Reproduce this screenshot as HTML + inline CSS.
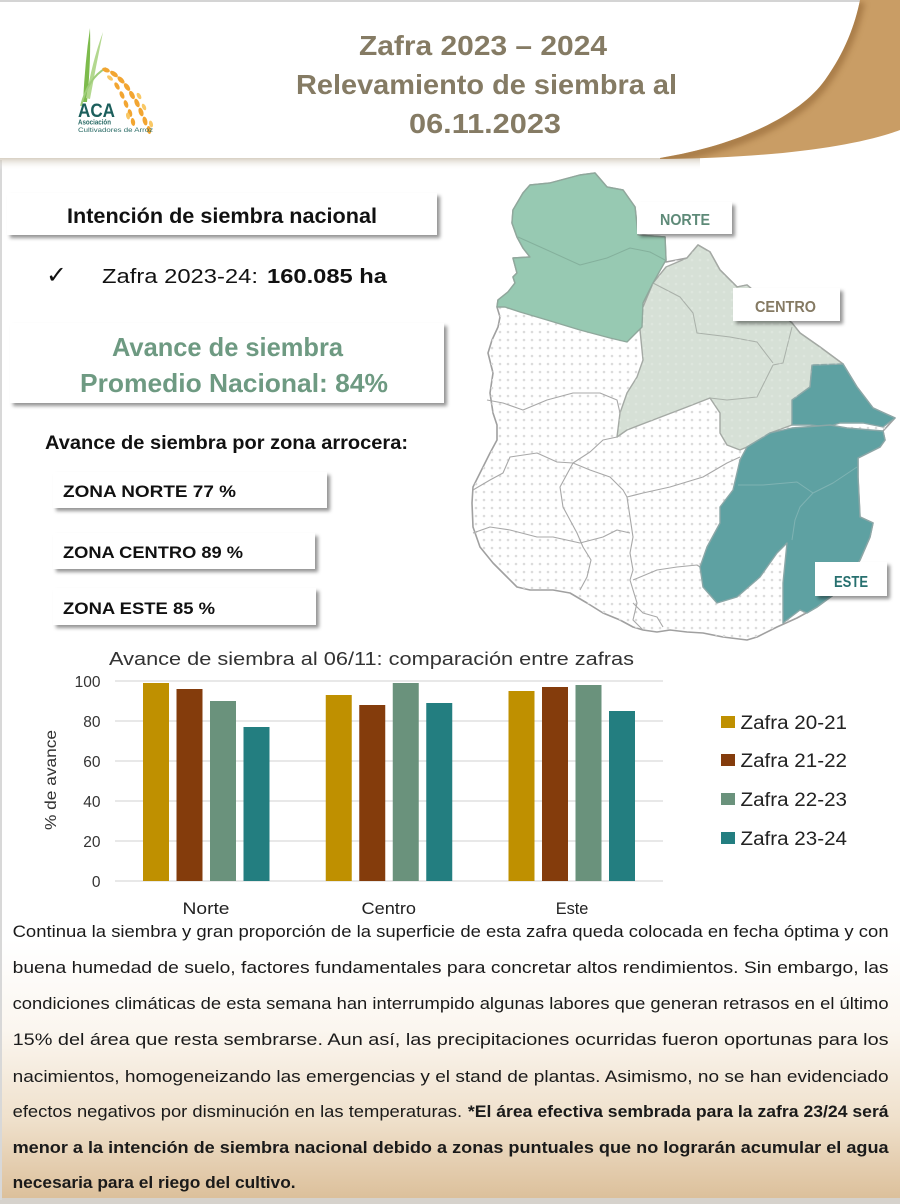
<!DOCTYPE html>
<html><head><meta charset="utf-8">
<style>
html,body{margin:0;padding:0;background:#fff;}
body{width:900px;height:1204px;overflow:hidden;}
svg{display:block;}
text{font-family:"Liberation Sans",Arial,sans-serif;}
</style></head>
<body>
<svg width="900" height="1204" viewBox="0 0 900 1204" xmlns="http://www.w3.org/2000/svg">
<defs>
  <filter id="sh" x="-10%" y="-30%" width="125%" height="180%">
    <feDropShadow dx="3" dy="3" stdDeviation="1.8" flood-color="#000" flood-opacity="0.42"/>
  </filter>
  <filter id="blur3"><feGaussianBlur stdDeviation="3"/></filter>
  <linearGradient id="bg" x1="0" y1="0" x2="0" y2="1">
    <stop offset="0" stop-color="#ffffff"/>
    <stop offset="0.35" stop-color="#fbf6ef"/>
    <stop offset="0.7" stop-color="#efe0cb"/>
    <stop offset="1" stop-color="#dcc09b"/>
  </linearGradient>
  <linearGradient id="hs" x1="0" y1="0" x2="0" y2="1">
    <stop offset="0" stop-color="#c9bfae" stop-opacity="0.75"/>
    <stop offset="1" stop-color="#ffffff" stop-opacity="0"/>
  </linearGradient>
  <pattern id="dots" width="8" height="8" patternUnits="userSpaceOnUse">
    <circle cx="4" cy="4" r="1.3" fill="#dcdcdc"/>
  </pattern>
  <pattern id="wdots" width="8" height="8" patternUnits="userSpaceOnUse">
    <circle cx="4" cy="4" r="1.3" fill="#ffffff" fill-opacity="0.18"/>
  </pattern>
  <clipPath id="tanclip">
    <path d="M660,158 C740,145 800,115 825,80 C845,52 855,25 860,0 L900,0 L900,130 C860,145 780,158 660,159 Z"/>
  </clipPath>
</defs>

<rect x="0" y="0" width="900" height="1204" fill="#ffffff"/>
<rect x="0" y="940" width="900" height="258" fill="url(#bg)"/>
<rect x="0" y="1198" width="900" height="6" fill="#d6d2cc"/>
<rect x="0" y="0" width="900" height="2" fill="#d4d4d4"/>
<rect x="0" y="160" width="2" height="1040" fill="#d8d8d8"/>

<rect x="0" y="158" width="700" height="12" fill="url(#hs)"/>

<path d="M660,158 C740,145 800,115 825,80 C845,52 855,25 860,0 L900,0 L900,130 C860,145 780,158 660,159 Z" fill="#c99d65"/>
<g clip-path="url(#tanclip)">
  <path d="M660,160 C740,147 800,117 825,82 C845,54 855,27 860,2" fill="none" stroke="#9c6f3d" stroke-width="10" filter="url(#blur3)" opacity="0.7"/>
</g>

<g>
  <path d="M83,102 Q85,62 90,28 Q91,62 87,102 Z" fill="#7dbb4c"/>
  <path d="M86,98 Q92,62 103,32 Q96,66 90,99 Z" fill="#b3d88f"/>
  <path d="M81,106 Q88,78 106,68" fill="none" stroke="#9fcd7a" stroke-width="2"/>
  <g fill="#f2a531">
    <ellipse cx="106" cy="70" rx="4" ry="2.2" transform="rotate(20 106 70)"/>
    <ellipse cx="114" cy="74" rx="4.5" ry="2.3" transform="rotate(35 114 74)"/>
    <ellipse cx="121" cy="80" rx="4.5" ry="2.3" transform="rotate(45 121 80)"/>
    <ellipse cx="127" cy="87" rx="4.5" ry="2.3" transform="rotate(55 127 87)"/>
    <ellipse cx="132" cy="95" rx="4.5" ry="2.3" transform="rotate(62 132 95)"/>
    <ellipse cx="137" cy="103" rx="4.5" ry="2.3" transform="rotate(68 137 103)"/>
    <ellipse cx="141" cy="112" rx="4.5" ry="2.3" transform="rotate(72 141 112)"/>
    <ellipse cx="145" cy="121" rx="4.5" ry="2.3" transform="rotate(76 145 121)"/>
    <ellipse cx="149" cy="130" rx="4" ry="2.2" transform="rotate(80 149 130)"/>
    <ellipse cx="117" cy="86" rx="4" ry="2.1" transform="rotate(60 117 86)"/>
    <ellipse cx="122" cy="95" rx="4" ry="2.1" transform="rotate(66 122 95)"/>
    <ellipse cx="126" cy="104" rx="4" ry="2.1" transform="rotate(72 126 104)"/>
    <ellipse cx="130" cy="113" rx="4" ry="2.1" transform="rotate(76 130 113)"/>
    <ellipse cx="133" cy="122" rx="4" ry="2.1" transform="rotate(80 133 122)"/>
  </g>
  <g fill="#f9c865">
    <ellipse cx="110" cy="78" rx="3.5" ry="1.9" transform="rotate(40 110 78)"/>
    <ellipse cx="139" cy="96" rx="3.5" ry="1.9" transform="rotate(60 139 96)"/>
    <ellipse cx="144" cy="107" rx="3.5" ry="1.9" transform="rotate(66 144 107)"/>
    <ellipse cx="151" cy="124" rx="3.5" ry="1.9" transform="rotate(75 151 124)"/>
    <ellipse cx="128" cy="116" rx="3.5" ry="1.9" transform="rotate(78 128 116)"/>
  </g>
  <text x="78" y="117" font-size="19" font-weight="bold" fill="#1c5f5c" textLength="37" lengthAdjust="spacingAndGlyphs">ACA</text>
  <text x="78" y="124.5" font-size="7" font-weight="bold" fill="#2a6b66" textLength="33" lengthAdjust="spacingAndGlyphs">Asociación</text>
  <text x="78" y="132" font-size="6.5" fill="#2a6b66" textLength="75" lengthAdjust="spacingAndGlyphs">Cultivadores de Arroz</text>
</g>

<g font-weight="bold" fill="#857b64" font-size="28">
  <text x="359" y="55" textLength="248" lengthAdjust="spacingAndGlyphs">Zafra 2023 – 2024</text>
  <text x="296" y="94" textLength="381" lengthAdjust="spacingAndGlyphs">Relevamiento de siembra al</text>
  <text x="409" y="133" textLength="152" lengthAdjust="spacingAndGlyphs">06.11.2023</text>
</g>

<rect x="7" y="193" width="430" height="42" fill="#fff" filter="url(#sh)"/>
<text x="67" y="223" font-size="21" font-weight="bold" fill="#111" textLength="310" lengthAdjust="spacingAndGlyphs">Intención de siembra nacional</text>

<text x="46" y="283" font-size="24" fill="#111" style="font-family:'DejaVu Sans',sans-serif" textLength="21" lengthAdjust="spacingAndGlyphs">✓</text>
<text x="102" y="283" font-size="20" fill="#111" textLength="156" lengthAdjust="spacingAndGlyphs">Zafra 2023-24:</text>
<text x="267" y="283" font-size="20" font-weight="bold" fill="#111" textLength="120" lengthAdjust="spacingAndGlyphs">160.085 ha</text>

<rect x="10" y="323" width="434" height="80" fill="#fff" filter="url(#sh)"/>
<text x="112" y="356" font-size="26" font-weight="bold" fill="#6e9a82" textLength="231" lengthAdjust="spacingAndGlyphs">Avance de siembra</text>
<text x="80" y="392" font-size="26" font-weight="bold" fill="#6e9a82" textLength="308" lengthAdjust="spacingAndGlyphs">Promedio Nacional:  84%</text>

<text x="45" y="449" font-size="19.5" font-weight="bold" fill="#111" textLength="363" lengthAdjust="spacingAndGlyphs">Avance de siembra por zona arrocera:</text>

<rect x="53" y="472" width="274" height="36" fill="#fff" filter="url(#sh)"/>
<text x="63" y="497" font-size="17" font-weight="bold" fill="#111" textLength="173" lengthAdjust="spacingAndGlyphs">ZONA NORTE  77 %</text>
<rect x="53" y="533" width="262" height="36" fill="#fff" filter="url(#sh)"/>
<text x="63" y="558" font-size="17" font-weight="bold" fill="#111" textLength="180" lengthAdjust="spacingAndGlyphs">ZONA CENTRO 89 %</text>
<rect x="53" y="588" width="263" height="37" fill="#fff" filter="url(#sh)"/>
<text x="63" y="614" font-size="17" font-weight="bold" fill="#111" textLength="152" lengthAdjust="spacingAndGlyphs">ZONA ESTE  85 %</text>

<g stroke-linejoin="round">
  <path d="M497,307 L500,317 L498,327 L492,340 L488,353 L493,373 L490,393 L493,413 L497,425 L497,440 L490,453 L478,477 L473,487 L472,503 L473,527 L480,547 L493,563 L507,577 L517,587 L530,590 L553,590 L570,593 L587,603 L603,613 L620,620 L633,627 L643,630 L657,632 L670,630 L687,632 L703,633 L723,637 L747,640 L757,637 L777,627 L797,618 L817,607 L840,590 L860,560 L870,537 L873,523 L860,517 L858,477 L858,458 L880,447 L885,440 L883,431 L895,418 L873,408 L857,387 L843,364 L820,347 L800,333 L792,323 L747,285 L737,287 L720,270 L710,252 L698,245 L687,258 L666,262 L665,237 L638,235 L635,207 L623,190 L607,187 L595,173 L580,175 L550,183 L530,185 L523,193 L513,210 L512,223 L517,237 L523,248 L530,257 L513,258 L517,273 L513,277 L515,283 L508,292 L498,300 Z" fill="#ffffff" stroke="#a0a0a0" stroke-width="1.6"/>
  <path d="M497,307 L500,317 L498,327 L492,340 L488,353 L493,373 L490,393 L493,413 L497,425 L497,440 L490,453 L478,477 L473,487 L472,503 L473,527 L480,547 L493,563 L507,577 L517,587 L530,590 L553,590 L570,593 L587,603 L603,613 L620,620 L633,627 L643,630 L657,632 L670,630 L687,632 L703,633 L723,637 L747,640 L757,637 L777,627 L797,618 L817,607 L840,590 L860,560 L870,537 L873,523 L860,517 L858,477 L858,458 L880,447 L885,440 L883,431 L895,418 L873,408 L857,387 L843,364 L820,347 L800,333 L792,323 L747,285 L737,287 L720,270 L710,252 L698,245 L687,258 L666,262 L665,237 L638,235 L635,207 L623,190 L607,187 L595,173 L580,175 L550,183 L530,185 L523,193 L513,210 L512,223 L517,237 L523,248 L530,257 L513,258 L517,273 L513,277 L515,283 L508,292 L498,300 Z" fill="url(#dots)" stroke="none"/>
  <g fill="none" stroke="#a8a8a8" stroke-width="1.1">
    <polyline points="487,400 503,403 523,410 547,400 573,393 600,393 617,400 620,413"/>
    <polyline points="473,490 490,480 503,473 510,457 537,453 557,462 573,463 590,452 603,440 617,437"/>
    <polyline points="573,463 560,487 563,507 570,520 577,533 583,547 591,560 587,577 580,590"/>
    <polyline points="573,463 590,470 610,477 623,490 627,497 630,517 633,537 630,553 633,570 630,580 637,603 633,620 643,630"/>
    <polyline points="473,533 490,527 510,530 537,537 553,537 580,543 603,537 617,530 630,533"/>
    <polyline points="633,580 657,570 677,567 697,565 700,567"/>
    <polyline points="627,497 643,493 670,487 703,477 727,463 740,457"/>
    <polyline points="633,603 643,613 657,617 663,627"/>
  </g>
  <path d="M666,267 L687,258 L698,245 L710,252 L720,270 L737,287 L747,285 L792,323 L800,333 L820,347 L843,364 L812,366 L810,387 L793,400 L792,425 L770,433 L747,447 L740,450 L727,445 L720,433 L720,413 L710,398 L687,407 L653,420 L627,430 L617,437 L620,413 L627,393 L637,377 L643,360 L640,330 L643,307 L653,283 Z" fill="#d6e0d6" stroke="#a4a9a4" stroke-width="1.4"/>
  <g fill="none" stroke="#a9b0a9" stroke-width="1">
    <polyline points="653,283 680,297 693,313 697,333 730,337 757,342 773,363"/>
    <polyline points="792,327 787,347 783,363 773,365 767,377 757,397 727,400 710,398"/>
  </g>
  <path d="M523,193 L530,185 L550,183 L580,175 L595,173 L607,187 L623,190 L635,207 L638,235 L665,237 L666,260 L653,283 L643,303 L642,327 L627,342 L610,338 L580,330 L547,320 L520,312 L505,307 L497,307 L498,300 L508,292 L515,283 L513,277 L517,273 L513,258 L530,257 L523,248 L517,237 L512,223 L513,210 Z" fill="#97c9b2" stroke="#8fa89c" stroke-width="1.4"/>
  <polyline points="518,237 547,250 580,265 607,258 630,248 650,252 665,260" fill="none" stroke="#84b09c" stroke-width="1"/>
  <path d="M812,365 L843,364 L857,387 L873,408 L895,418 L883,427 L863,423 L840,423 L827,427 L810,425 L792,425 L792,400 L810,387 Z" fill="#5ea1a2" stroke="#8aa7a7" stroke-width="1.4"/>
  <path d="M792,428 L830,425 L847,428 L883,431 L885,440 L880,447 L858,458 L858,477 L860,517 L873,523 L870,537 L860,560 L840,590 L817,607 L807,613 L800,610 L783,623 L783,583 L787,543 L777,553 L760,577 L737,597 L717,603 L703,587 L700,567 L707,547 L720,523 L720,507 L733,490 L740,460 L747,447 L770,433 Z" fill="#5ea1a2" stroke="#8aa7a7" stroke-width="1.4"/>
  <g fill="none" stroke="#7fb3b3" stroke-width="1">
    <polyline points="738,485 763,485 797,482 813,493 833,483 857,467"/>
    <polyline points="813,493 800,507 795,520 792,540"/>
  </g>
  <path d="M666,267 L687,258 L698,245 L710,252 L720,270 L737,287 L747,285 L792,323 L800,333 L820,347 L843,364 L812,366 L810,387 L793,400 L792,425 L770,433 L747,447 L740,450 L727,445 L720,433 L720,413 L710,398 L687,407 L653,420 L627,430 L617,437 L620,413 L627,393 L637,377 L643,360 L640,330 L643,307 L653,283 Z" fill="url(#wdots)"/>
</g>

<rect x="637" y="202" width="95" height="32" fill="#fff" filter="url(#sh)"/>
<text x="660" y="225" font-size="16" font-weight="bold" fill="#5e8a78" textLength="50" lengthAdjust="spacingAndGlyphs">NORTE</text>
<rect x="733" y="288" width="107" height="33" fill="#fff" filter="url(#sh)"/>
<text x="755" y="312" font-size="16" font-weight="bold" fill="#857a63" textLength="61" lengthAdjust="spacingAndGlyphs">CENTRO</text>
<rect x="815" y="562" width="72" height="34" fill="#fff" filter="url(#sh)"/>
<text x="834" y="587" font-size="16" font-weight="bold" fill="#27706f" textLength="34" lengthAdjust="spacingAndGlyphs">ESTE</text>

<text x="109" y="665" font-size="18.6" fill="#333" textLength="525" lengthAdjust="spacingAndGlyphs">Avance de siembra al 06/11: comparación entre zafras</text>
<g stroke="#d9d9d9" stroke-width="1.2">
  <line x1="115" y1="681" x2="663" y2="681"/>
  <line x1="115" y1="721" x2="663" y2="721"/>
  <line x1="115" y1="761" x2="663" y2="761"/>
  <line x1="115" y1="801" x2="663" y2="801"/>
  <line x1="115" y1="841" x2="663" y2="841"/>
  <line x1="115" y1="881" x2="663" y2="881"/>
</g>
<g font-size="15.5" fill="#333" text-anchor="end">
  <text x="100.5" y="687">100</text>
  <text x="100.5" y="727">80</text>
  <text x="100.5" y="767">60</text>
  <text x="100.5" y="807">40</text>
  <text x="100.5" y="847">20</text>
  <text x="100.5" y="887">0</text>
</g>
<text transform="translate(56,780) rotate(-90)" text-anchor="middle" font-size="16" fill="#333" textLength="100" lengthAdjust="spacingAndGlyphs">% de avance</text>

<rect x="143" y="683" width="26" height="198" fill="#bf9000"/>
<rect x="176.5" y="689" width="26" height="192" fill="#843c0c"/>
<rect x="210" y="701" width="26" height="180" fill="#6a927c"/>
<rect x="243.5" y="727" width="26" height="154" fill="#237e80"/>
<rect x="325.75" y="695" width="26" height="186" fill="#bf9000"/>
<rect x="359.25" y="705" width="26" height="176" fill="#843c0c"/>
<rect x="392.75" y="683" width="26" height="198" fill="#6a927c"/>
<rect x="426.25" y="703" width="26" height="178" fill="#237e80"/>
<rect x="508.5" y="691" width="26" height="190" fill="#bf9000"/>
<rect x="542" y="687" width="26" height="194" fill="#843c0c"/>
<rect x="575.5" y="685" width="26" height="196" fill="#6a927c"/>
<rect x="609" y="711" width="26" height="170" fill="#237e80"/>

<g font-size="17" fill="#222">
  <text x="182.5" y="914" textLength="47" lengthAdjust="spacingAndGlyphs">Norte</text>
  <text x="361.5" y="914" textLength="54.5" lengthAdjust="spacingAndGlyphs">Centro</text>
  <text x="555.7" y="914" textLength="32.7" lengthAdjust="spacingAndGlyphs">Este</text>
</g>

<rect x="721" y="716" width="14" height="12" fill="#bf9000"/>
<rect x="721" y="754" width="14" height="12" fill="#843c0c"/>
<rect x="721" y="793" width="14" height="12" fill="#6a927c"/>
<rect x="721" y="832" width="14" height="12" fill="#237e80"/>
<g font-size="19" fill="#222">
  <text x="740.5" y="729" textLength="106.5" lengthAdjust="spacingAndGlyphs">Zafra 20-21</text>
  <text x="740.5" y="767" textLength="106.5" lengthAdjust="spacingAndGlyphs">Zafra 21-22</text>
  <text x="740.5" y="806" textLength="106.5" lengthAdjust="spacingAndGlyphs">Zafra 22-23</text>
  <text x="740.5" y="845" textLength="106.5" lengthAdjust="spacingAndGlyphs">Zafra 23-24</text>
</g>

<g font-size="16.5" fill="#1a1a1a">
  <text x="12.6" y="937" textLength="876" lengthAdjust="spacingAndGlyphs">Continua la siembra y gran proporción de la superficie de esta zafra queda colocada en fecha óptima y con</text>
  <text x="12.6" y="973" textLength="876" lengthAdjust="spacingAndGlyphs">buena humedad de suelo, factores fundamentales para concretar altos rendimientos. Sin embargo, las</text>
  <text x="12.6" y="1009" textLength="876" lengthAdjust="spacingAndGlyphs">condiciones climáticas de esta semana han interrumpido algunas labores que generan retrasos en el último</text>
  <text x="12.6" y="1045" textLength="876" lengthAdjust="spacingAndGlyphs">15%  del área que resta sembrarse. Aun así, las precipitaciones ocurridas fueron oportunas para los</text>
  <text x="12.6" y="1082" textLength="876" lengthAdjust="spacingAndGlyphs">nacimientos, homogeneizando las emergencias y el stand de plantas. Asimismo, no se han evidenciado</text>
  <text x="12.6" y="1117" textLength="449.5" lengthAdjust="spacingAndGlyphs">efectos negativos por disminución en las temperaturas.</text>
  <text x="467.9" y="1117" font-weight="bold" textLength="420.7" lengthAdjust="spacingAndGlyphs">*El área efectiva sembrada para la zafra 23/24 será</text>
  <text x="12.6" y="1153" font-weight="bold" textLength="876" lengthAdjust="spacingAndGlyphs">menor a la intención de siembra nacional debido a zonas puntuales que no lograrán acumular el agua</text>
  <text x="12.6" y="1188" font-weight="bold" textLength="283" lengthAdjust="spacingAndGlyphs">necesaria para el riego del cultivo.</text>
</g>
</svg>
</body></html>
